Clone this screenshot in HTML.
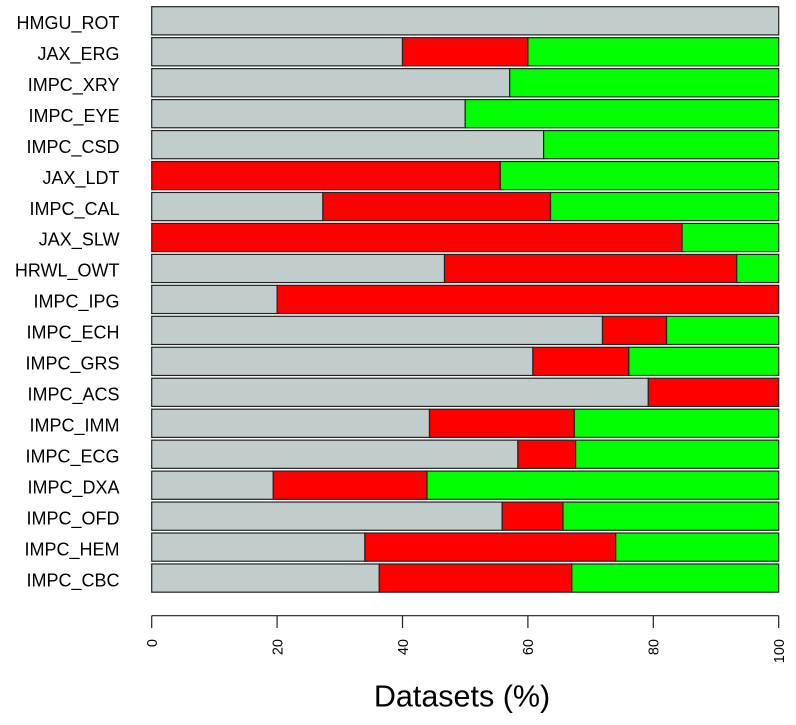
<!DOCTYPE html>
<html>
<head>
<meta charset="utf-8">
<style>
  html, body { margin:0; padding:0; background:#ffffff; }
  svg { display:block; }
  text { font-family: "Liberation Sans", Arial, sans-serif; fill:#000; }
</style>
</head>
<body>
<svg width="796" height="725" viewBox="0 0 796 725" xmlns="http://www.w3.org/2000/svg">
  <rect x="0" y="0" width="796" height="725" fill="#ffffff"/>
  <g stroke="#222" stroke-width="1.2">
    <!-- 1 HMGU_ROT -->
    <rect x="151.7" y="6.7" width="627" height="28.2" fill="#C1CCCC"/>
    <!-- 2 JAX_ERG -->
    <rect x="151.7" y="37.66" width="250.8" height="28.2" fill="#C1CCCC"/>
    <rect x="402.5" y="37.66" width="125.4" height="28.2" fill="#FF0000"/>
    <rect x="527.9" y="37.66" width="250.8" height="28.2" fill="#00FF00"/>
    <!-- 3 IMPC_XRY -->
    <rect x="151.7" y="68.62" width="358.0" height="28.2" fill="#C1CCCC"/>
    <rect x="509.7" y="68.62" width="269.0" height="28.2" fill="#00FF00"/>
    <!-- 4 IMPC_EYE -->
    <rect x="151.7" y="99.58" width="313.5" height="28.2" fill="#C1CCCC"/>
    <rect x="465.2" y="99.58" width="313.5" height="28.2" fill="#00FF00"/>
    <!-- 5 IMPC_CSD -->
    <rect x="151.7" y="130.54" width="391.9" height="28.2" fill="#C1CCCC"/>
    <rect x="543.6" y="130.54" width="235.1" height="28.2" fill="#00FF00"/>
    <!-- 6 JAX_LDT -->
    <rect x="151.7" y="161.5" width="348.6" height="28.2" fill="#FF0000"/>
    <rect x="500.3" y="161.5" width="278.4" height="28.2" fill="#00FF00"/>
    <!-- 7 IMPC_CAL -->
    <rect x="151.7" y="192.46" width="171.2" height="28.2" fill="#C1CCCC"/>
    <rect x="322.9" y="192.46" width="227.6" height="28.2" fill="#FF0000"/>
    <rect x="550.5" y="192.46" width="228.2" height="28.2" fill="#00FF00"/>
    <!-- 8 JAX_SLW -->
    <rect x="151.7" y="223.42" width="530.4" height="28.2" fill="#FF0000"/>
    <rect x="682.1" y="223.42" width="96.6" height="28.2" fill="#00FF00"/>
    <!-- 9 HRWL_OWT -->
    <rect x="151.7" y="254.38" width="292.8" height="28.2" fill="#C1CCCC"/>
    <rect x="444.5" y="254.38" width="292.2" height="28.2" fill="#FF0000"/>
    <rect x="736.7" y="254.38" width="42.0" height="28.2" fill="#00FF00"/>
    <!-- 10 IMPC_IPG -->
    <rect x="151.7" y="285.34" width="125.4" height="28.2" fill="#C1CCCC"/>
    <rect x="277.1" y="285.34" width="501.6" height="28.2" fill="#FF0000"/>
    <!-- 11 IMPC_ECH -->
    <rect x="151.7" y="316.3" width="450.8" height="28.2" fill="#C1CCCC"/>
    <rect x="602.5" y="316.3" width="64.0" height="28.2" fill="#FF0000"/>
    <rect x="666.5" y="316.3" width="112.2" height="28.2" fill="#00FF00"/>
    <!-- 12 IMPC_GRS -->
    <rect x="151.7" y="347.26" width="381.2" height="28.2" fill="#C1CCCC"/>
    <rect x="532.9" y="347.26" width="95.9" height="28.2" fill="#FF0000"/>
    <rect x="628.8" y="347.26" width="149.9" height="28.2" fill="#00FF00"/>
    <!-- 13 IMPC_ACS -->
    <rect x="151.7" y="378.22" width="496.6" height="28.2" fill="#C1CCCC"/>
    <rect x="648.3" y="378.22" width="130.4" height="28.2" fill="#FF0000"/>
    <!-- 14 IMPC_IMM -->
    <rect x="151.7" y="409.18" width="277.8" height="28.2" fill="#C1CCCC"/>
    <rect x="429.5" y="409.18" width="144.8" height="28.2" fill="#FF0000"/>
    <rect x="574.3" y="409.18" width="204.4" height="28.2" fill="#00FF00"/>
    <!-- 15 IMPC_ECG -->
    <rect x="151.7" y="440.14" width="366.2" height="28.2" fill="#C1CCCC"/>
    <rect x="517.9" y="440.14" width="57.7" height="28.2" fill="#FF0000"/>
    <rect x="575.6" y="440.14" width="203.1" height="28.2" fill="#00FF00"/>
    <!-- 16 IMPC_DXA -->
    <rect x="151.7" y="471.1" width="121.6" height="28.2" fill="#C1CCCC"/>
    <rect x="273.3" y="471.1" width="153.7" height="28.2" fill="#FF0000"/>
    <rect x="427.0" y="471.1" width="351.7" height="28.2" fill="#00FF00"/>
    <!-- 17 IMPC_OFD -->
    <rect x="151.7" y="502.06" width="350.5" height="28.2" fill="#C1CCCC"/>
    <rect x="502.2" y="502.06" width="60.8" height="28.2" fill="#FF0000"/>
    <rect x="563.0" y="502.06" width="215.7" height="28.2" fill="#00FF00"/>
    <!-- 18 IMPC_HEM -->
    <rect x="151.7" y="533.02" width="213.2" height="28.2" fill="#C1CCCC"/>
    <rect x="364.9" y="533.02" width="250.8" height="28.2" fill="#FF0000"/>
    <rect x="615.7" y="533.02" width="163.0" height="28.2" fill="#00FF00"/>
    <!-- 19 IMPC_CBC -->
    <rect x="151.7" y="563.98" width="227.6" height="28.2" fill="#C1CCCC"/>
    <rect x="379.3" y="563.98" width="192.5" height="28.2" fill="#FF0000"/>
    <rect x="571.8" y="563.98" width="206.9" height="28.2" fill="#00FF00"/>
  </g>

  <!-- y labels -->
  <g font-size="18" text-anchor="end">
    <text x="119.5" y="29.0">HMGU_ROT</text>
    <text x="119.5" y="59.96">JAX_ERG</text>
    <text x="119.5" y="90.92">IMPC_XRY</text>
    <text x="119.5" y="121.88">IMPC_EYE</text>
    <text x="119.5" y="152.84">IMPC_CSD</text>
    <text x="119.5" y="183.8">JAX_LDT</text>
    <text x="119.5" y="214.76">IMPC_CAL</text>
    <text x="119.5" y="245.72">JAX_SLW</text>
    <text x="119.5" y="276.68">HRWL_OWT</text>
    <text x="119.5" y="307.64">IMPC_IPG</text>
    <text x="119.5" y="338.6">IMPC_ECH</text>
    <text x="119.5" y="369.56">IMPC_GRS</text>
    <text x="119.5" y="400.52">IMPC_ACS</text>
    <text x="119.5" y="431.48">IMPC_IMM</text>
    <text x="119.5" y="462.44">IMPC_ECG</text>
    <text x="119.5" y="493.4">IMPC_DXA</text>
    <text x="119.5" y="524.36">IMPC_OFD</text>
    <text x="119.5" y="555.32">IMPC_HEM</text>
    <text x="119.5" y="586.28">IMPC_CBC</text>
  </g>

  <!-- x axis -->
  <g stroke="#222" stroke-width="1.2" fill="none">
    <line x1="151.7" y1="615.7" x2="778.7" y2="615.7"/>
    <line x1="151.7" y1="615.7" x2="151.7" y2="628"/>
    <line x1="277.1" y1="615.7" x2="277.1" y2="628"/>
    <line x1="402.5" y1="615.7" x2="402.5" y2="628"/>
    <line x1="527.9" y1="615.7" x2="527.9" y2="628"/>
    <line x1="653.3" y1="615.7" x2="653.3" y2="628"/>
    <line x1="778.7" y1="615.7" x2="778.7" y2="628"/>
  </g>
  <g font-size="14.5" text-anchor="end">
    <text transform="translate(157,639) rotate(-90)">0</text>
    <text transform="translate(282.4,639) rotate(-90)">20</text>
    <text transform="translate(407.8,639) rotate(-90)">40</text>
    <text transform="translate(533.2,639) rotate(-90)">60</text>
    <text transform="translate(658.6,639) rotate(-90)">80</text>
    <text transform="translate(784,639) rotate(-90)">100</text>
  </g>

  <text x="462" y="706.5" font-size="30.5" text-anchor="middle">Datasets (%)</text>
</svg>
</body>
</html>
